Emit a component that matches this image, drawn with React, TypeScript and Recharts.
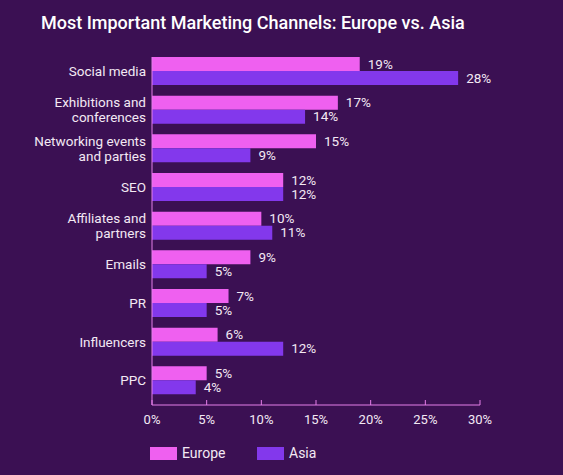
import React from "react";
import { BarChart, Bar, XAxis, YAxis, LabelList } from "recharts";

const categories = [
  "Social media",
  "Exhibitions and\nconferences",
  "Networking events\nand parties",
  "SEO",
  "Affiliates and\npartners",
  "Emails",
  "PR",
  "Influencers",
  "PPC",
];
const europe = [19, 17, 15, 12, 10, 9, 7, 6, 5];
const asia = [28, 14, 9, 12, 11, 5, 5, 12, 4];
const xTicks = [0, 5, 10, 15, 20, 25, 30];

const data = categories.map((c, i) => ({ name: c, europe: europe[i], asia: asia[i] }));

const BG = "#3b1053";
const PINK = "#ef60f0";
const PURPLE = "#8338ec";
const AXIS = "#e57ee9";
const TEXT = "#f3e9f3";
const FONT = "Roboto, sans-serif";

const YTick = (props: any) => {
  const { x, y, payload } = props;
  const lines = String(payload.value).split("\n");
  const lh = 15;
  const start = y - ((lines.length - 1) * lh) / 2;
  return (
    <text x={x} y={start} textAnchor="end" fill={TEXT} fontSize={13.5} fontFamily={FONT}>
      {lines.map((l, i) => (
        <tspan key={i} x={x} y={start + i * lh} dy="0.35em">
          {l}
        </tspan>
      ))}
    </text>
  );
};

const XTick = (props: any) => {
  const { x, y, payload } = props;
  return (
    <g>
      <line x1={x} x2={x} y1={y - 13} y2={y - 8} stroke={AXIS} strokeWidth={1} />
      <text x={x} y={y + 6} textAnchor="middle" fill={TEXT} fontSize={13} fontFamily={FONT} dy="0.35em">
        {payload.value}%
      </text>
    </g>
  );
};

export default function App() {
  return (
    <div
      style={{
        position: "absolute",
        left: 0,
        top: 0,
        width: 563,
        height: 475,
        background: BG,
        fontFamily: FONT,
      }}
    >
      <div
        style={{
          position: "absolute",
          left: 41,
          top: 12,
          color: "#ffffff",
          fontSize: 18,
          fontWeight: 500,
          fontFamily: FONT,
          whiteSpace: "nowrap",
        }}
      >
        Most Important Marketing Channels: Europe vs. Asia
      </div>
      <div style={{ position: "absolute", left: 0, top: 0 }}>
        <BarChart
          width={563}
          height={475}
          data={data}
          layout="vertical"
          margin={{ top: 57, right: 83, bottom: 40, left: 0 }}
          barGap={0}
          barSize={14}
        >
          <XAxis
            type="number"
            domain={[0, 30]}
            ticks={xTicks}
            interval={0}
            axisLine={{ stroke: AXIS, strokeWidth: 1 }}
            tickLine={false}
            tick={<XTick />}
            height={30}
          />
          <YAxis
            type="category"
            dataKey="name"
            width={152}
            axisLine={{ stroke: AXIS, strokeWidth: 1 }}
            tickLine={false}
            tick={<YTick />}
            tickMargin={6}
            tickSize={0}
            interval={0}
            padding={{ top: -5, bottom: 5 }}
          />
          <Bar dataKey="europe" fill={PINK} isAnimationActive={false}>
            <LabelList
              dataKey="europe"
              position="right"
              offset={8}
              fill={TEXT}
              fontSize={13.5}
              fontFamily={FONT}
              formatter={(v: any) => `${v}%`}
            />
          </Bar>
          <Bar dataKey="asia" fill={PURPLE} isAnimationActive={false}>
            <LabelList
              dataKey="asia"
              position="right"
              offset={8}
              fill={TEXT}
              fontSize={13.5}
              fontFamily={FONT}
              formatter={(v: any) => `${v}%`}
            />
          </Bar>
        </BarChart>
      </div>
      <div
        style={{
          position: "absolute",
          left: 150,
          top: 445,
          display: "flex",
          alignItems: "center",
          fontSize: 14,
          color: TEXT,
          fontFamily: FONT,
        }}
      >
        <span style={{ width: 27, height: 13, background: PINK, display: "inline-block" }} />
        <span style={{ marginLeft: 5, width: 75 }}>Europe</span>
        <span style={{ width: 27, height: 13, background: PURPLE, display: "inline-block" }} />
        <span style={{ marginLeft: 5 }}>Asia</span>
      </div>
    </div>
  );
}
